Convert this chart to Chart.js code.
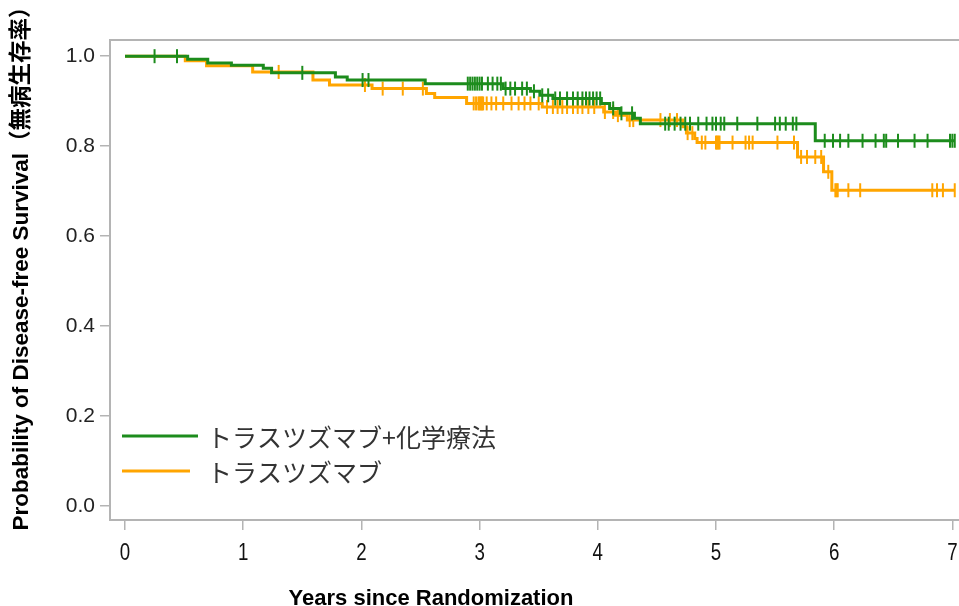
<!DOCTYPE html>
<html>
<head>
<meta charset="utf-8">
<script src="https://cdn.jsdelivr.net/npm/chart.js@4.4.1/dist/chart.umd.min.js"></script>
<style>
  body { margin: 0; background: #fff; }
  canvas { display: block; }
</style>
</head>
<body>
<canvas id="kmChart" width="959" height="606"></canvas>
<script>
// tick labels
const xTicks = [0, 1, 2, 3, 4, 5, 6, 7];
const yTicks = [0, 0.2, 0.4, 0.6, 0.8, 1.0];
const seriesNames = ['トラスツズマブ+化学療法', 'トラスツズマブ'];
const xTitle = 'Years since Randomization';
const yTitle = 'Probability of Disease-free Survival（無病生存率）';

// trastuzumab + chemo: step times and survival after each step
const comboTimes = [0, 0.53, 0.70, 0.90, 1.17, 1.24, 1.78, 1.88, 2.54, 3.20, 3.43, 3.51, 3.62, 4.03, 4.10, 4.19, 4.31, 4.36, 5.84, 7.02];
const comboSurv = [1.0, 0.993, 0.985, 0.980, 0.973, 0.963, 0.954, 0.947, 0.939, 0.928, 0.922, 0.913, 0.906, 0.895, 0.884, 0.873, 0.862, 0.850, 0.812, 0.812];
const comboCensor = [0.25, 0.44, 1.50, 2.01, 2.06, 2.90, 2.92, 2.94, 2.96, 2.98, 3.00, 3.02, 3.07, 3.11, 3.15, 3.18, 3.22, 3.26, 3.30, 3.36, 3.40, 3.46, 3.53, 3.58, 3.64, 3.68, 3.74, 3.79, 3.83, 3.87, 3.90, 3.93, 3.96, 3.99, 4.02, 4.13, 4.20, 4.29, 4.57, 4.60, 4.65, 4.70, 4.74, 4.78, 4.85, 4.92, 4.97, 5.00, 5.04, 5.07, 5.18, 5.35, 5.50, 5.54, 5.59, 5.65, 5.68, 5.92, 5.99, 6.05, 6.12, 6.24, 6.35, 6.42, 6.44, 6.54, 6.68, 6.79, 6.98, 7.00, 7.02];

// trastuzumab alone
const monoTimes = [0, 0.51, 0.69, 1.08, 1.59, 1.73, 2.09, 2.55, 2.62, 2.89, 3.53, 4.05, 4.15, 4.25, 4.72, 4.75, 4.82, 4.84, 5.69, 5.91, 5.98, 7.02];
const monoSurv = [1.0, 0.990, 0.979, 0.965, 0.947, 0.936, 0.928, 0.917, 0.908, 0.895, 0.887, 0.876, 0.869, 0.858, 0.843, 0.829, 0.817, 0.808, 0.776, 0.743, 0.702, 0.702];
const monoCensor = [1.30, 2.03, 2.18, 2.35, 2.52, 2.95, 2.97, 2.99, 3.00, 3.01, 3.02, 3.03, 3.06, 3.10, 3.14, 3.20, 3.27, 3.33, 3.38, 3.43, 3.50, 3.57, 3.62, 3.66, 3.70, 3.74, 3.79, 3.83, 3.87, 3.92, 3.97, 4.06, 4.13, 4.17, 4.27, 4.30, 4.53, 4.61, 4.67, 4.76, 4.80, 4.88, 4.91, 5.00, 5.01, 5.02, 5.03, 5.14, 5.25, 5.28, 5.31, 5.52, 5.66, 5.72, 5.77, 5.84, 5.89, 5.95, 6.01, 6.02, 6.03, 6.12, 6.22, 6.83, 6.87, 6.92, 7.02];

const GREEN = '#1c8c1c';
const ORANGE = '#ffa500';
const AXIS = '#b4b4b4';
const SANS = '"Liberation Sans", Arial, "Noto Sans CJK JP", sans-serif';

// value of the step curve at time t
function survAt(times, surv, t) {
  let s = surv[0];
  for (let i = 0; i < times.length; i++) {
    if (times[i] <= t) s = surv[i];
  }
  return s;
}

function curve(times, surv) {
  return times.map((t, i) => ({ x: t, y: surv[i] }));
}

function censorPoints(censor, times, surv) {
  return censor.map(t => ({ x: t, y: survAt(times, surv, t) }));
}

function curveDataset(label, data, color, order) {
  return {
    label, data, order,
    borderColor: color,
    borderWidth: 3,
    stepped: 'before',
    pointRadius: 0,
    fill: false,
    isCurve: true,
  };
}

function censorDataset(data, color, order) {
  return {
    data, order,
    showLine: false,
    pointStyle: 'line',
    rotation: 90,
    pointRadius: 7,
    pointBorderWidth: 2,
    pointBorderColor: color,
    pointBackgroundColor: color,
    borderColor: color,
  };
}

// legend inside the plot area, lower left
const innerLegend = {
  id: 'innerLegend',
  afterDatasetsDraw(chart) {
    const { ctx, chartArea } = chart;
    const curves = chart.data.datasets.filter(d => d.isCurve);
    const rows = [436, 471];
    const lens = [76, 68];
    ctx.save();
    curves.forEach((d, i) => {
      const y = rows[i];
      const x0 = chartArea.left + 12;
      ctx.strokeStyle = d.borderColor;
      ctx.lineWidth = 3;
      ctx.beginPath();
      ctx.moveTo(x0, y);
      ctx.lineTo(x0 + lens[i], y);
      ctx.stroke();
      ctx.fillStyle = '#333';
      ctx.font = '25px "Noto Sans CJK JP", sans-serif';
      ctx.textBaseline = 'middle';
      ctx.textAlign = 'left';
      ctx.fillText(d.label, chartArea.left + 97, y + 1);
    });
    ctx.restore();
  }
};

// top frame line, narrow x tick labels and the two axis titles
const frameAndTitles = {
  id: 'frameAndTitles',
  beforeDatasetsDraw(chart) {
    const { ctx, chartArea } = chart;
    ctx.save();
    ctx.strokeStyle = AXIS;
    ctx.lineWidth = 2;
    ctx.beginPath();
    ctx.moveTo(chartArea.left, chartArea.top);
    ctx.lineTo(chartArea.right, chartArea.top);
    ctx.stroke();
    ctx.restore();
  },
  afterDraw(chart) {
    const { ctx } = chart;
    const xScale = chart.scales.x;

    ctx.save();
    ctx.fillStyle = '#111';
    ctx.font = '24px ' + SANS;
    ctx.textAlign = 'center';
    ctx.textBaseline = 'middle';
    xTicks.forEach(v => {
      ctx.save();
      ctx.translate(xScale.getPixelForValue(v), 553);
      ctx.scale(0.78, 1);
      ctx.fillText(String(v), 0, 0);
      ctx.restore();
    });
    ctx.restore();

    ctx.save();
    ctx.fillStyle = '#000';
    ctx.font = 'bold 22px ' + SANS;
    ctx.textAlign = 'center';
    ctx.textBaseline = 'alphabetic';
    ctx.fillText(xTitle, 431, 605);
    ctx.restore();

    ctx.save();
    ctx.fillStyle = '#000';
    ctx.font = 'bold 22.5px ' + SANS;
    ctx.textAlign = 'center';
    ctx.textBaseline = 'middle';
    ctx.translate(22, 263);
    ctx.rotate(-Math.PI / 2);
    ctx.fillText(yTitle, 0, 0);
    ctx.restore();
  }
};

function noPad(s) {
  s.paddingLeft = 0;
  s.paddingRight = 0;
  s.paddingTop = 0;
  s.paddingBottom = 0;
}

const ctx = document.getElementById('kmChart').getContext('2d');
const kmChart = new Chart(ctx, {
  type: 'line',
  data: {
    datasets: [
      curveDataset(seriesNames[0], curve(comboTimes, comboSurv), GREEN, 0),
      censorDataset(censorPoints(comboCensor, comboTimes, comboSurv), GREEN, 1),
      curveDataset(seriesNames[1], curve(monoTimes, monoSurv), ORANGE, 2),
      censorDataset(censorPoints(monoCensor, monoTimes, monoSurv), ORANGE, 3),
    ]
  },
  options: {
    responsive: false,
    animation: false,
    devicePixelRatio: 1,
    layout: { autoPadding: false, padding: { top: 40, right: 0, left: 0, bottom: 0 } },
    plugins: {
      legend: { display: false },
      tooltip: { enabled: false },
    },
    scales: {
      x: {
        type: 'linear',
        min: -0.127,
        max: 7.056,
        afterBuildTicks: s => { s.ticks = xTicks.map(v => ({ value: v })); },
        afterFit: s => { s.height = 86; noPad(s); },
        grid: { display: true, drawOnChartArea: false, drawTicks: true, tickLength: 10, color: AXIS, lineWidth: 1.5 },
        border: { display: true, color: AXIS, width: 2 },
        ticks: { display: false },
      },
      y: {
        type: 'linear',
        min: -0.031,
        max: 1.036,
        afterBuildTicks: s => { s.ticks = yTicks.map(v => ({ value: v })); },
        afterFit: s => { s.width = 110; noPad(s); },
        grid: { display: true, drawOnChartArea: false, drawTicks: true, tickLength: 10, color: AXIS, lineWidth: 1.5 },
        border: { display: true, color: AXIS, width: 2 },
        ticks: {
          padding: 5,
          color: '#222',
          font: { family: SANS, size: 21 },
          callback: v => v.toFixed(1),
        },
      },
    },
  },
  plugins: [frameAndTitles, innerLegend],
});
</script>
</body>
</html>
